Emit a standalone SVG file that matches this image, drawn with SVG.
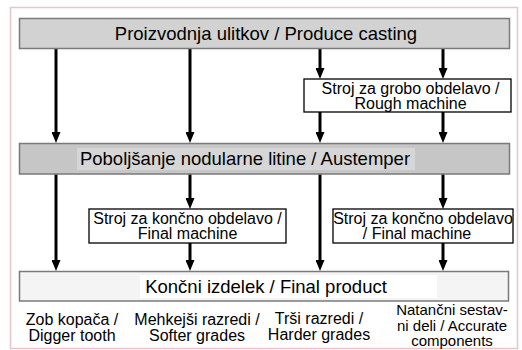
<svg xmlns="http://www.w3.org/2000/svg" width="522" height="350" viewBox="0 0 522 350">
<defs>
<style>
text{font-family:"Liberation Sans",Arial,sans-serif;fill:#000;text-anchor:middle}
.big{font-size:18.5px}
.mid{font-size:16px}
.sm{font-size:15px}
.bar{stroke:#7a7a7a;stroke-width:1.5}
.box{fill:#fff;stroke:#000;stroke-width:1.3}
.arr{stroke:#000;stroke-width:3;fill:none;marker-end:url(#ah)}
</style>
<marker id="ah" markerUnits="userSpaceOnUse" viewBox="0 0 11 9" refX="0" refY="4.5" markerWidth="11" markerHeight="9" orient="auto">
<path d="M0,0 L11,4.5 L0,9 z" fill="#000"/>
</marker>
</defs>
<rect x="0" y="0" width="522" height="350" fill="#fff"/>
<rect x="10.5" y="7.5" width="507" height="341" fill="#fff" stroke="#e6c6c6" stroke-width="1.5"/>

<g id="connectors">
<path class="arr" d="M56,48 V132"/>
<path class="arr" d="M190,48 V132"/>
<path class="arr" d="M320,48 V68"/>
<path class="arr" d="M320,112 V132"/>
<path class="arr" d="M443,48 V68"/>
<path class="arr" d="M443,112 V132"/>
<path class="arr" d="M56,174 V260"/>
<path class="arr" d="M190,174 V198"/>
<path class="arr" d="M190,243 V260"/>
<path class="arr" d="M320,174 V260"/>
<path class="arr" d="M443,174 V198"/>
<path class="arr" d="M443,243 V260"/>
</g>

<g id="produce-casting">
<rect class="bar" x="19.5" y="18.5" width="490" height="30" fill="#d2d2d2"/>
<text class="big" x="266" y="39.5">Proizvodnja ulitkov / Produce casting</text>
</g>

<g id="rough-machine">
<rect class="box" x="304" y="79" width="207" height="33"/>
<text class="mid" x="410.5" y="93.5">Stroj za grobo obdelavo /</text>
<text class="mid" x="410.5" y="109.3">Rough machine</text>
</g>

<g id="austemper">
<rect class="bar" x="19.5" y="143.5" width="490" height="30.5" fill="#c6c6c6"/>
<rect x="77" y="148" width="338" height="22" fill="#d6d6d6"/>
<text class="big" x="245" y="165">Poboljšanje nodularne litine / Austemper</text>
</g>

<g id="final-machine-1">
<rect class="box" x="89" y="209" width="197" height="34"/>
<text class="mid" x="187.5" y="223.5">Stroj za končno obdelavo /</text>
<text class="mid" x="187.5" y="239">Final machine</text>
</g>

<g id="final-machine-2">
<rect class="box" x="333" y="209" width="180" height="34"/>
<text class="mid" x="423" y="223.5">Stroj za končno obdelavo</text>
<text class="mid" x="417" y="239">/ Final machine</text>
</g>

<g id="final-product">
<rect class="bar" x="19.5" y="271.5" width="489" height="29.5" fill="#f4f4f4" stroke="#9a9a9a"/>
<rect x="140" y="275" width="297" height="23" fill="#fff"/>
<text class="big" x="266" y="293">Končni izdelek / Final product</text>
</g>

<g id="digger-tooth">
<text class="mid" x="72" y="325">Zob kopača /</text>
<text class="mid" x="72" y="341">Digger tooth</text>
</g>
<g id="softer-grades">
<text class="mid" x="197" y="325">Mehkejši razredi /</text>
<text class="mid" x="197" y="341">Softer grades</text>
</g>
<g id="harder-grades">
<text class="mid" x="319" y="324">Trši razredi /</text>
<text class="mid" x="319" y="340">Harder grades</text>
</g>
<g id="accurate-components">
<text class="sm" x="452" y="314.5">Natančni sestav-</text>
<text class="sm" x="452" y="330.5">ni deli / Accurate</text>
<text class="sm" x="452" y="346">components</text>
</g>
</svg>
